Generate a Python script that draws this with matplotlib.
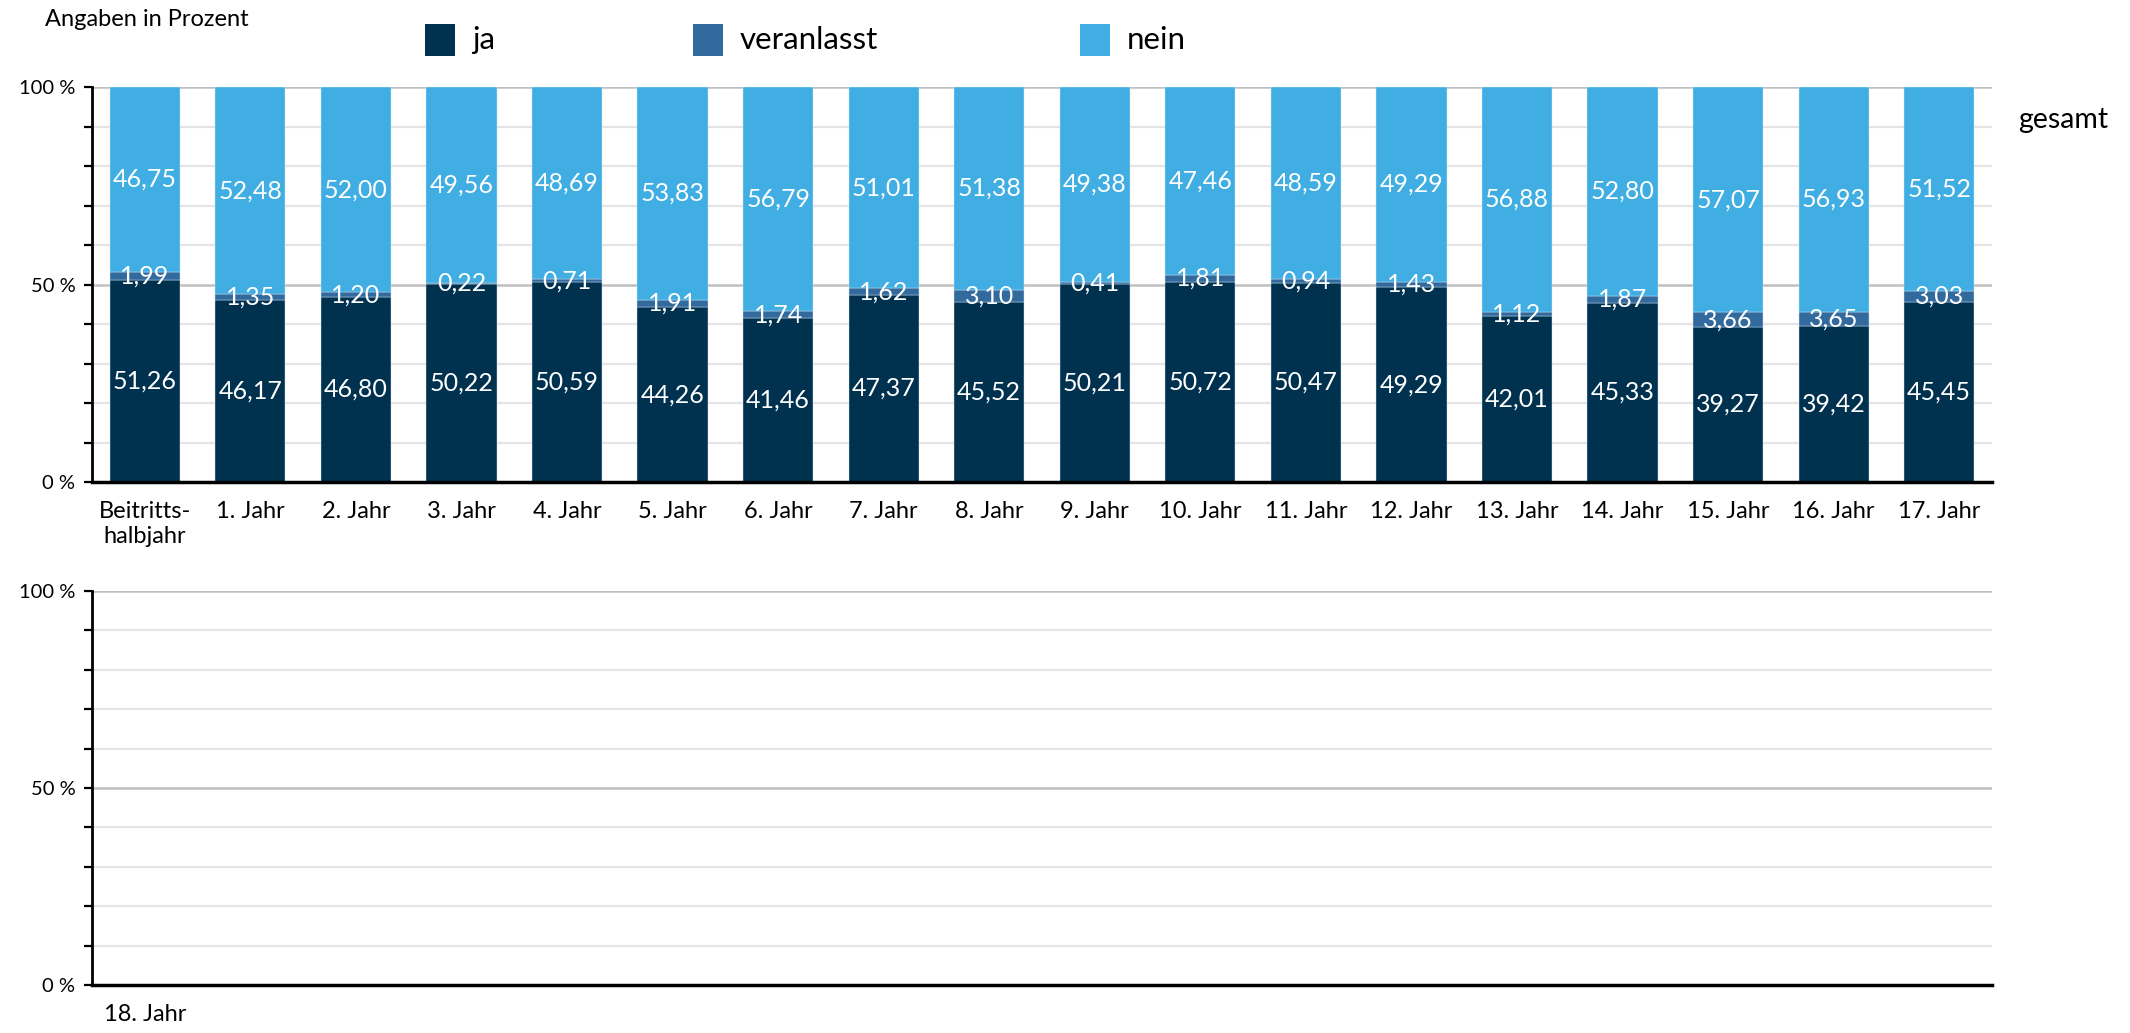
import matplotlib
matplotlib.use("Agg")
import matplotlib.pyplot as plt
from matplotlib.patches import Rectangle
import numpy as np

plt.rcParams['font.family'] = ['Lato', 'DejaVu Sans']

categories = ["Beitritts-\nhalbjahr", "1. Jahr", "2. Jahr", "3. Jahr", "4. Jahr", "5. Jahr",
              "6. Jahr", "7. Jahr", "8. Jahr", "9. Jahr", "10. Jahr", "11. Jahr", "12. Jahr",
              "13. Jahr", "14. Jahr", "15. Jahr", "16. Jahr", "17. Jahr"]
ja = [51.26, 46.17, 46.80, 50.22, 50.59, 44.26, 41.46, 47.37, 45.52, 50.21, 50.72, 50.47,
      49.29, 42.01, 45.33, 39.27, 39.42, 45.45]
veranlasst = [1.99, 1.35, 1.20, 0.22, 0.71, 1.91, 1.74, 1.62, 3.10, 0.41, 1.81, 0.94,
              1.43, 1.12, 1.87, 3.66, 3.65, 3.03]
nein = [46.75, 52.48, 52.00, 49.56, 48.69, 53.83, 56.79, 51.01, 51.38, 49.38, 47.46, 48.59,
        49.29, 56.88, 52.80, 57.07, 56.93, 51.52]
categories_2 = ["18. Jahr"]
series_names = ["ja", "veranlasst", "nein"]
colors = ["#00324f", "#336a9e", "#41aee3"]
yticklabels = ["0 %", "50 %", "100 %"]

W, H = 2130, 1033
fig = plt.figure(figsize=(W / 100, H / 100), dpi=100)

def fmt(v):
    return f"{v:.2f}".replace(".", ",")

def style_axes(ax, ncat_labels, labels):
    ax.set_xlim(-0.5, 17.5)
    ax.set_ylim(0, 100)
    for y in range(10, 100, 10):
        if y == 50:
            continue
        ax.axhline(y, color="#e4e4e4", lw=1.6, zorder=0)
    for y in (50, 100):
        ax.axhline(y, color="#c0c0c0", lw=1.8, zorder=0)
    ax.set_yticks([0, 50, 100])
    ax.set_yticklabels(yticklabels, fontsize=14.5)
    ax.set_yticks(range(0, 101, 10), minor=True)
    ax.tick_params(axis="y", which="both", length=6, width=1.6, color="black", pad=6)
    ax.set_xticks(range(ncat_labels))
    ax.set_xticklabels(labels, fontsize=17)
    ax.tick_params(axis="x", length=0, pad=14)
    for s in ("top", "right"):
        ax.spines[s].set_visible(False)
    ax.spines["left"].set_linewidth(2)
    ax.spines["bottom"].set_linewidth(2.5)
    ax.spines["bottom"].set_zorder(5)

ax1 = fig.add_axes([92 / W, 1 - 482 / H, 1900 / W, 395 / H])
x = np.arange(len(categories))
bottom = np.zeros(len(categories))
for vals, col in zip([ja, veranlasst, nein], colors):
    vals = np.array(vals)
    ax1.bar(x, vals, bottom=bottom, width=0.665, color=col, edgecolor="#cfe6f5",
            linewidth=0.3, zorder=2)
    for xi, b, v in zip(x, bottom, vals):
        ax1.text(xi, b + v / 2, fmt(v), ha="center", va="center", color="white",
                 fontsize=18, zorder=3)
    bottom = bottom + vals
style_axes(ax1, len(categories), categories)

ax2 = fig.add_axes([92 / W, 1 - 985 / H, 1900 / W, 394 / H])
style_axes(ax2, len(categories_2), categories_2)

# Title-ish text
fig.text(45 / W, 1 - 19 / H, "Angaben in Prozent", fontsize=17, ha="left", va="center")
fig.text(2018 / W, 1 - 120 / H, "gesamt", fontsize=20.5, ha="left", va="center")

# Legend
sq_x = [425, 693, 1080]
txt_x = [472, 740, 1127]
for sx, tx, name, col in zip(sq_x, txt_x, series_names, colors):
    fig.patches.append(Rectangle((sx / W, 1 - 56 / H), 30 / W, 32 / H, transform=fig.transFigure,
                                 facecolor=col, edgecolor="none"))
    fig.text(tx / W, 1 - 40 / H, name, fontsize=22.5, ha="left", va="center")

fig.savefig("out.png", dpi=100)
